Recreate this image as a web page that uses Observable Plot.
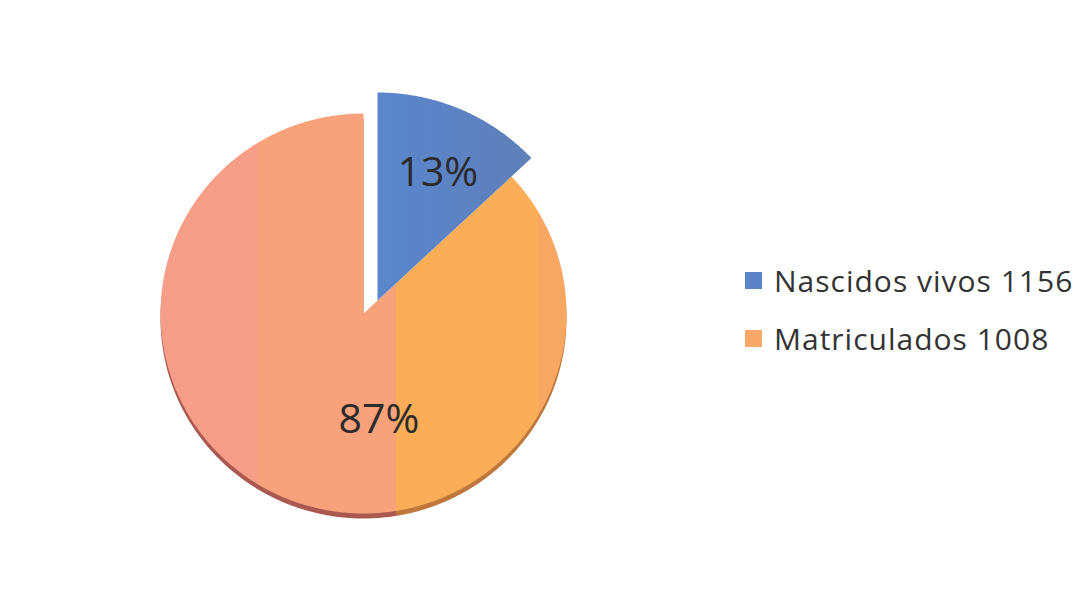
<!DOCTYPE html>
<html><head><meta charset="utf-8">
<script src="https://cdn.jsdelivr.net/npm/d3@7"></script>
<script src="https://cdn.jsdelivr.net/npm/@observablehq/plot@0.6"></script>
<style>
body{margin:0;background:#fff;font-family:"Open Sans",Lato,sans-serif;}
#wrap{position:relative;width:1091px;height:602px;overflow:hidden}
#legend{position:absolute;left:745px;top:251px;color:#333;font-size:30px;letter-spacing:1px}
.item{display:flex;align-items:center;height:58px;white-space:nowrap}
.sw{width:17px;height:17px;margin-right:12px;flex:none}
</style></head><body><div id="wrap"><div id="legend"></div></div>
<script>
const categories = ["Nascidos vivos 1156", "Matriculados 1008"];
const percents = [13, 87];
const pctLabels = ["13%", "87%"];
const swatchColors = ["#5b84c8", "#f9a86a"];

// pie geometry from the data
const arcs = d3.pie().sort(null).value(d => d)(percents);
function slicePoints(i, rf) {
  const a = arcs[i];
  const pts = [{k: categories[i], x: 0, y: 0}];
  const n = Math.max(2, Math.ceil((a.endAngle - a.startAngle) / 0.01));
  for (let j = 0; j <= n; j++) {
    const t = a.startAngle + (a.endAngle - a.startAngle) * j / n;
    pts.push({k: categories[i], x: rf * Math.sin(t), y: rf * Math.cos(t)});
  }
  pts.push({k: categories[i], x: 0, y: 0});
  return pts;
}
function labelPoint(i, rf) {
  const a = arcs[i], m = (a.startAngle + a.endAngle) / 2;
  return [{x: rf * Math.sin(m), y: rf * Math.cos(m), t: pctLabels[i]}];
}
const blueR = 1.04;
const blue = slicePoints(0, blueR);
const orange = slicePoints(1, 1);

const plot = Plot.plot({
  width: 1091, height: 602,
  margin: 0,
  x: {domain: [-1, 1], range: [160, 566], axis: null},
  y: {domain: [-1, 1], range: [513, 113], axis: null},
  style: {background: "#fff"},
  marks: [
    Plot.line(orange, {x: "x", y: "y", fill: "url(#shadowGrad)", stroke: "none", dy: 5, curve: "linear"}),
    Plot.line(orange, {x: "x", y: "y", fill: "url(#orangeGrad)", stroke: "none", curve: "linear"}),
    Plot.line(blue, {x: "x", y: "y", fill: "url(#blueGrad)", stroke: "none", dx: 14, dy: -13, curve: "linear"}),
    Plot.text(labelPoint(0, 0.66 * blueR), {x: "x", y: "y", text: "t", dx: 19, dy: -15, fontSize: 41, fill: "#2b2b2b", fontFamily: "Open Sans"}),
    Plot.text(labelPoint(1, 0.54), {x: "x", y: "y", text: "t", dx: 59, dy: 7, fontSize: 41, fill: "#2b2b2b", fontFamily: "Open Sans"})
  ]
});

const svg = d3.select(plot);
const defs = svg.insert("defs", ":first-child");
function grad(id, stops) {
  const g = defs.append("linearGradient").attr("id", id)
    .attr("x1", 0).attr("y1", 0).attr("x2", 1).attr("y2", 0);
  stops.forEach(([o, c]) => g.append("stop").attr("offset", o).attr("stop-color", c));
}
grad("orangeGrad", [[0, "#f79e88"], [0.24, "#f79e88"], [0.24, "#f8a27c"], [0.58, "#f8a27c"], [0.58, "#fbad57"], [0.93, "#fbad57"], [0.93, "#f9a864"], [1, "#f9a864"]]);
grad("shadowGrad", [[0, "#a9594f"], [0.58, "#a9594f"], [0.58, "#c0773c"], [1, "#c0773c"]]);
grad("blueGrad", [[0, "#5a86cc"], [0.6, "#5d82c2"], [1, "#5f7fb8"]]);

document.getElementById("wrap").prepend(plot);
plot.style.position = "absolute"; plot.style.left = "0"; plot.style.top = "0";

const legend = d3.select("#legend");
categories.forEach((c, i) => {
  const it = legend.append("div").attr("class", "item");
  it.append("div").attr("class", "sw").style("background", swatchColors[i]);
  it.append("span").text(c);
});
</script></body></html>
